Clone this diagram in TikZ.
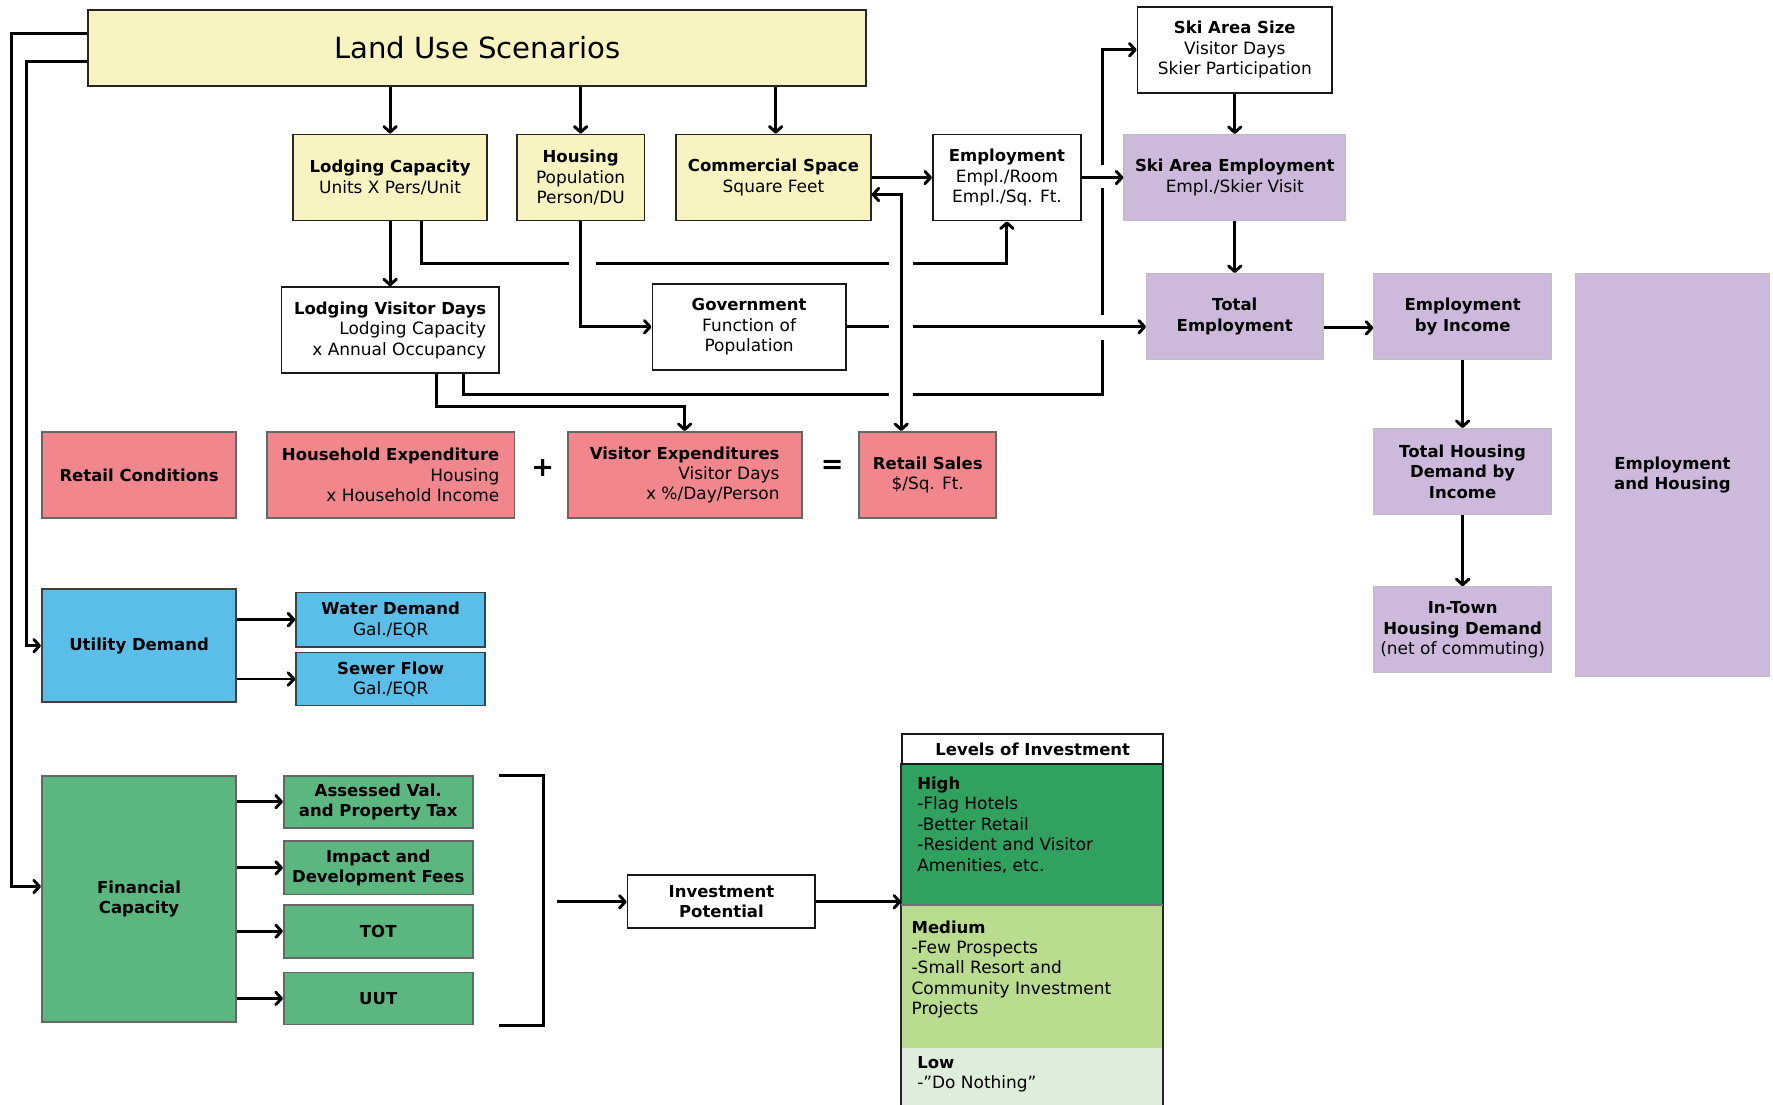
\documentclass[tikz,border=0pt]{standalone}
\usepackage{fontspec}
\setmainfont{DejaVu Sans}
\usetikzlibrary{arrows.meta,calc}
\definecolor{cyel}{HTML}{F7F4C2}
\definecolor{cpur}{HTML}{CDB9DB}
\definecolor{cred}{HTML}{F2868D}
\definecolor{cblu}{HTML}{5BBEE9}
\definecolor{cgrn}{HTML}{5CB67F}
\definecolor{chigh}{HTML}{30A15F}
\definecolor{cmed}{HTML}{B9DC8F}
\definecolor{clow}{HTML}{DFEEDC}
\newcommand\tb[1]{{\fontsize{14.6}{18}\selectfont\bfseries #1}}
\newcommand\rg{\fontsize{15}{18}\selectfont}
\newcommand\bfnt{\fontsize{14.6}{18}\selectfont\bfseries}
\tikzset{
  box/.style={inner sep=0pt, align=center, font=\rg, line width=1.6pt},
  ybox/.style={box, draw=black!85, fill=cyel},
  wbox/.style={box, draw=black!90, fill=white},
  pbox/.style={box, draw=black!25, fill=cpur, line width=1pt},
  rbox/.style={box, draw=black!60, fill=cred},
  ubox/.style={box, draw=black!75, fill=cblu},
  gbox/.style={box, draw=black!60, fill=cgrn},
  tip/.tip={Straight Barb[length=5pt,width=11pt,round]},
  conn/.style={line width=2.6pt, -tip},
  wire/.style={line width=2.6pt},
  gap/.style={fill=white},
}
\begin{document}
\begin{tikzpicture}[x=1pt,y=-1pt]
\useasboundingbox (0,0) rectangle (1568,977);
\fill[white] (0,0) rectangle (1568,977);

% ---- nodes ----
\node[ybox, minimum width=688pt, minimum height=67pt, font=\fontsize{25.8}{30}\selectfont] (landuse) at (422,42.5) {Land Use Scenarios};

\node[ybox, minimum width=172pt, minimum height=76pt] (lodcap) at (345,157) {\tb{Lodging Capacity}\\Units X Pers/Unit};
\node[ybox, minimum width=113pt, minimum height=76pt] (housing) at (513.5,157) {\tb{Housing}\\Population\\Person/DU};
\node[ybox, minimum width=172pt, minimum height=76pt] (commercial) at (684,157) {\tb{Commercial Space}\\Square Feet};
\node[wbox, minimum width=131pt, minimum height=76pt] (employment) at (890.5,157) {\tb{Employment}\\Empl./Room\\Empl./Sq. Ft.};
\node[wbox, minimum width=172pt, minimum height=76pt] (skisize) at (1092,44) {\tb{Ski Area Size}\\Visitor Days\\Skier Participation};
\node[pbox, minimum width=196pt, minimum height=76pt] (skiemp) at (1092,157) {\tb{Ski Area Employment}\\Empl./Skier Visit};

\node[wbox, minimum width=192pt, minimum height=76pt, align=right] (lvd) at (345,292) {\tb{Lodging Visitor Days}\\Lodging Capacity\\x Annual Occupancy};
\node[wbox, minimum width=171pt, minimum height=76pt] (gov) at (662.5,289) {\tb{Government}\\Function of\\Population};

\node[pbox, minimum width=156pt, minimum height=76pt, font=\bfnt] (totemp) at (1092,280) {Total\\Employment};
\node[pbox, minimum width=157pt, minimum height=76pt, font=\bfnt] (empinc) at (1293.5,280) {Employment\\by Income};
\node[pbox, minimum width=157pt, minimum height=76pt, font=\bfnt] (thd) at (1293.5,417) {Total Housing\\Demand by\\Income};
\node[pbox, minimum width=157pt, minimum height=76pt] (intown) at (1293.5,557) {\tb{In-Town}\\\tb{Housing Demand}\\(net of commuting)};
\node[pbox, minimum width=172pt, minimum height=356pt, font=\bfnt] (emphous) at (1479,420) {Employment\\and Housing};

\node[rbox, minimum width=172pt, minimum height=76pt, font=\bfnt] (retcond) at (123,420) {Retail Conditions};
\node[rbox, minimum width=219pt, minimum height=76pt, align=right] (hhexp) at (345.5,420) {\tb{Household Expenditure}\\Housing\\x Household Income};
\node[font=\fontsize{24}{24}\selectfont\bfseries] (plus) at (480,414) {+};
\node[rbox, minimum width=207pt, minimum height=76pt, align=right] (visexp) at (605.5,420) {\tb{Visitor Expenditures}\\Visitor Days\\x \%/Day/Person};
\node[font=\fontsize{24}{24}\selectfont\bfseries] (eq) at (736,413) {=};
\node[rbox, minimum width=121pt, minimum height=76pt] (retsales) at (820.5,420) {\tb{Retail Sales}\\\$/Sq. Ft.};

\node[ubox, minimum width=172pt, minimum height=100pt, font=\bfnt] (utility) at (123,571) {Utility Demand};
\node[ubox, minimum width=167pt, minimum height=48pt] (water) at (345.5,548) {\tb{Water Demand}\\Gal./EQR};
\node[ubox, minimum width=167pt, minimum height=47pt] (sewer) at (345.5,600.5) {\tb{Sewer Flow}\\Gal./EQR};

\node[gbox, minimum width=172pt, minimum height=218pt, font=\bfnt] (fincap) at (123,795) {Financial\\Capacity};
\node[gbox, minimum width=167pt, minimum height=46pt, font=\bfnt] (assessed) at (334.5,709) {Assessed Val.\\and Property Tax};
\node[gbox, minimum width=167pt, minimum height=47pt, font=\bfnt] (impact) at (334.5,767.5) {Impact and\\Development Fees};
\node[gbox, minimum width=167pt, minimum height=47pt, font=\bfnt] (tot) at (334.5,823.5) {TOT};
\node[gbox, minimum width=167pt, minimum height=46pt, font=\bfnt] (uut) at (334.5,883) {UUT};

\node[wbox, minimum width=166pt, minimum height=47pt, font=\bfnt] (invpot) at (638,797.5) {Investment\\Potential};

% Levels of investment
\node[fill=chigh, anchor=north west, minimum width=231pt, minimum height=125pt, inner sep=0pt] (high) at (797,675) {};
\node[fill=cmed, anchor=north west, minimum width=231pt, minimum height=127pt, inner sep=0pt] (medium) at (797,800) {};
\node[fill=clow, anchor=north west, minimum width=231pt, minimum height=50pt, inner sep=0pt] (low) at (797,927) {};
\node[wbox, anchor=north west, minimum width=231pt, minimum height=27pt, font=\bfnt] (levhead) at (797,648) {Levels of Investment};
\draw[line width=1.6pt, black!85] (high.north west) -- (low.south west);
\draw[line width=1.6pt, black!85] (high.north east) -- (low.south east);
\draw[line width=1pt, black!55] (high.south west) -- (high.south east);
\node[anchor=north west, align=left, font=\rg, inner sep=0pt] (hightxt) at (811,687) {\tb{High}\\-Flag Hotels\\-Better Retail\\-Resident and Visitor\\Amenities, etc.};
\node[anchor=north west, align=left, font=\rg, inner sep=0pt] (medtxt) at (806,814) {\tb{Medium}\\-Few Prospects\\-Small Resort and\\Community Investment\\Projects};
\node[anchor=north west, align=left, font=\rg, inner sep=0pt] (lowtxt) at (811,934) {\tb{Low}\\-”Do Nothing”};

% ---- connectors ----
\draw[conn] (lodcap.north |- landuse.south) -- (lodcap.north);
\draw[conn] (housing.north |- landuse.south) -- (housing.north);
\draw[conn] ([xshift=2pt]commercial.north |- landuse.south) -- ([xshift=2pt]commercial.north);

\draw[conn] ([yshift=12.5pt]landuse.west) -- ++(-67,0) |- ([yshift=11pt]fincap.west);
\draw[conn] ([yshift=-11.5pt]landuse.west) -- ++(-54,0) |- (utility.west);

\draw[conn] (lodcap.south) -- (lvd.north);
\draw[conn] ([xshift=65pt]lvd.south) -- ++(0,18) -| ([xshift=-30pt]skisize.west) -- (skisize.west);
\draw[conn] ([xshift=28pt]lodcap.south) -- ++(0,37) -| (employment.south);
\draw[conn] ([xshift=41pt]lvd.south) -- ++(0,29) -| (visexp.north);

% gaps in the vertical at x=976
\fill[gap] (972,146) rectangle (980,166);
\fill[gap] (972,279) rectangle (980,301);
\draw[conn] (gov.east) -- (gov.east -| totemp.west);
\draw[conn] (commercial.east) -- (employment.west);
\draw[conn] (employment.east) -- (skiemp.west);

% gaps in horizontals
\fill[gap] (503,228) rectangle (527,236);
\fill[gap] (786,228) rectangle (807,236);
\fill[gap] (786,285) rectangle (807,294);
\fill[gap] (786,344) rectangle (807,352);
\draw[conn] (housing.south) |- (gov.west);
\draw[wire, tip-tip] ([yshift=-15pt]commercial.east) -| ([xshift=-23.5pt]retsales.north);

\draw[conn] (skisize.south) -- (skiemp.north);
\draw[conn] (skiemp.south) -- (totemp.north);
\draw[conn] ([yshift=-10pt]totemp.east) -- ([yshift=-10pt]empinc.west);
\draw[conn] (empinc.south) -- (thd.north);
\draw[conn] (thd.south) -- (intown.north);

\draw[conn] (water.west -| utility.east) -- (water.west);
\draw[conn] (sewer.west -| utility.east) -- (sewer.west);

\draw[conn] (assessed.west -| fincap.east) -- (assessed.west);
\draw[conn] (impact.west -| fincap.east) -- (impact.west);
\draw[conn] (tot.west -| fincap.east) -- (tot.west);
\draw[conn] (uut.west -| fincap.east) -- (uut.west);

\draw[wire, line width=2.8pt] (441,686) -- (481,686) -- (481,907) -- (441,907);
\coordinate (brk) at (493,797.5);
\draw[conn] (brk) -- (invpot.west);
\draw[conn] (invpot.east) -- (invpot.east -| high.west);
\end{tikzpicture}
\end{document}
